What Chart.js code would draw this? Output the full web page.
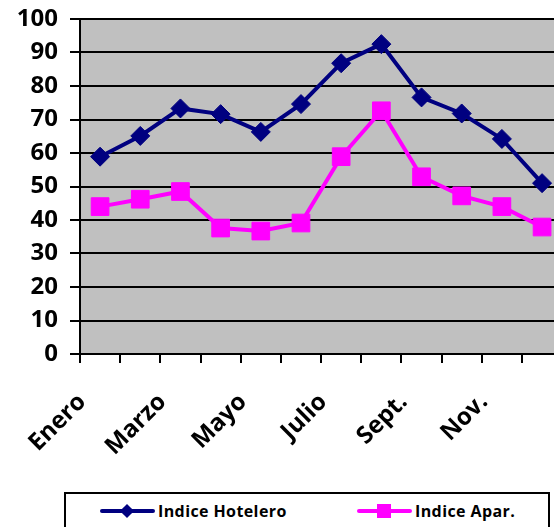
<!DOCTYPE html>
<html>
<head>
<meta charset="utf-8">
<script src="https://cdn.jsdelivr.net/npm/chart.js@4/dist/chart.umd.min.js"></script>
<style>
    html, body { margin: 0; padding: 0; background: #fff; overflow: hidden; width: 554px; height: 527px; }
    #wrap { position: absolute; left: 0; top: 0; }
    .legend {
        position: absolute; left: 64px; top: 492px; width: 486px; height: 50px;
        box-sizing: border-box; border: 2px solid #000; background: #fff;
        font-family: 'Open Sans', sans-serif; font-weight: 700; font-size: 16px; letter-spacing: 0.4px; color: #000;
    }
    .legend-item { position: absolute; top: 6px; height: 22px; line-height: 22px; white-space: nowrap; }
    .legend-line { position: absolute; top: 9px; height: 4px; width: 55px; border-radius: 2px; }
    .legend-mark { position: absolute; }
    .legend-text { position: absolute; left: 58px; top: 0; }
</style>
</head>
<body>
<div id="wrap"><canvas id="chart" width="588" height="490"></canvas></div>
<div class="legend" id="legend"></div>
<script>
// --- Data ---
const months = ['Enero', 'Febrero', 'Marzo', 'Abril', 'Mayo', 'Junio', 'Julio', 'Agosto', 'Sept.', 'Octubre', 'Nov.', 'Diciembre'];
const hotelero = [58.9, 65.1, 73.3, 71.6, 66.3, 74.6, 86.8, 92.5, 76.6, 71.8, 64.2, 51.0];
const apar = [44.0, 46.2, 48.5, 37.6, 36.7, 39.1, 58.9, 72.6, 52.9, 47.2, 44.0, 37.9];
const yTicks = [0, 10, 20, 30, 40, 50, 60, 70, 80, 90, 100];

const NAVY = '#000080';
const PINK = '#ff00ff';

// gray plot background
const plotBg = {
    id: 'plotBg',
    beforeDraw(chart) {
        const { ctx, chartArea: a } = chart;
        ctx.save();
        ctx.fillStyle = '#c0c0c0';
        ctx.fillRect(a.left, a.top, a.right - a.left, a.bottom - a.top);
        ctx.restore();
    }
};

new Chart(document.getElementById('chart'), {
    type: 'line',
    data: {
        labels: months,
        datasets: [
            {
                label: 'Indice Hotelero',
                data: hotelero,
                borderColor: NAVY,
                backgroundColor: NAVY,
                borderWidth: 4,
                pointStyle: 'rectRot',
                pointRadius: 9.5,
                pointBorderWidth: 1,
                tension: 0
            },
            {
                label: 'Indice Apar.',
                data: apar,
                borderColor: PINK,
                backgroundColor: PINK,
                borderWidth: 4,
                pointStyle: 'rect',
                pointRadius: 12.5,
                pointBorderWidth: 1,
                tension: 0
            }
        ]
    },
    options: {
        responsive: false,
        animation: false,
        devicePixelRatio: 1,
        layout: { padding: { top: 19, right: 10, left: 0, bottom: 0 } },
        plugins: { legend: { display: false }, tooltip: { enabled: false } },
        scales: {
            x: {
                offset: true,
                grid: { offset: true, drawOnChartArea: false, drawTicks: true, tickLength: 9, color: '#000', lineWidth: 2 },
                border: { color: '#000', width: 2 },
                ticks: {
                    autoSkip: false,
                    maxRotation: 45,
                    minRotation: 45,
                    padding: 25,
                    labelOffset: -18,
                    color: '#000',
                    font: { family: "'Open Sans', sans-serif", weight: 'bold', size: 24 },
                    callback: (v, i) => (i % 2 === 0 ? months[i] : '')
                },
                afterFit(scale) { scale.height = 136; }
            },
            y: {
                min: 0,
                max: 100,
                afterBuildTicks(scale) { scale.ticks = yTicks.map(v => ({ value: v })); },
                grid: { color: '#000', lineWidth: 2, tickLength: 10 },
                border: { color: '#000', width: 2 },
                ticks: { color: '#000', padding: 12, font: { family: "'Open Sans', sans-serif", weight: 'bold', size: 24 } },
                afterFit(scale) {
                    scale.width = 80;
                    scale.paddingTop = 0;
                    scale.paddingBottom = 0;
                }
            }
        }
    },
    plugins: [plotBg]
});

// --- Custom legend ---
const legendEl = document.getElementById('legend');
const legendItems = [
    { text: 'Indice Hotelero', color: NAVY, left: 34, mark: 'diamond' },
    { text: 'Indice Apar.', color: PINK, left: 291, mark: 'square' }
];
legendItems.forEach(it => {
    const item = document.createElement('span');
    item.className = 'legend-item';
    item.style.left = it.left + 'px';
    const markCss = it.mark === 'diamond'
        ? `left:22px;top:6px;width:10px;height:10px;transform:rotate(45deg);background:${it.color}`
        : `left:20px;top:4px;width:14px;height:14px;background:${it.color}`;
    item.innerHTML = `<span class="legend-line" style="background:${it.color}"></span>` +
        `<span class="legend-mark" style="${markCss}"></span>` +
        `<span class="legend-text">${it.text}</span>`;
    legendEl.appendChild(item);
});
</script>
</body>
</html>
